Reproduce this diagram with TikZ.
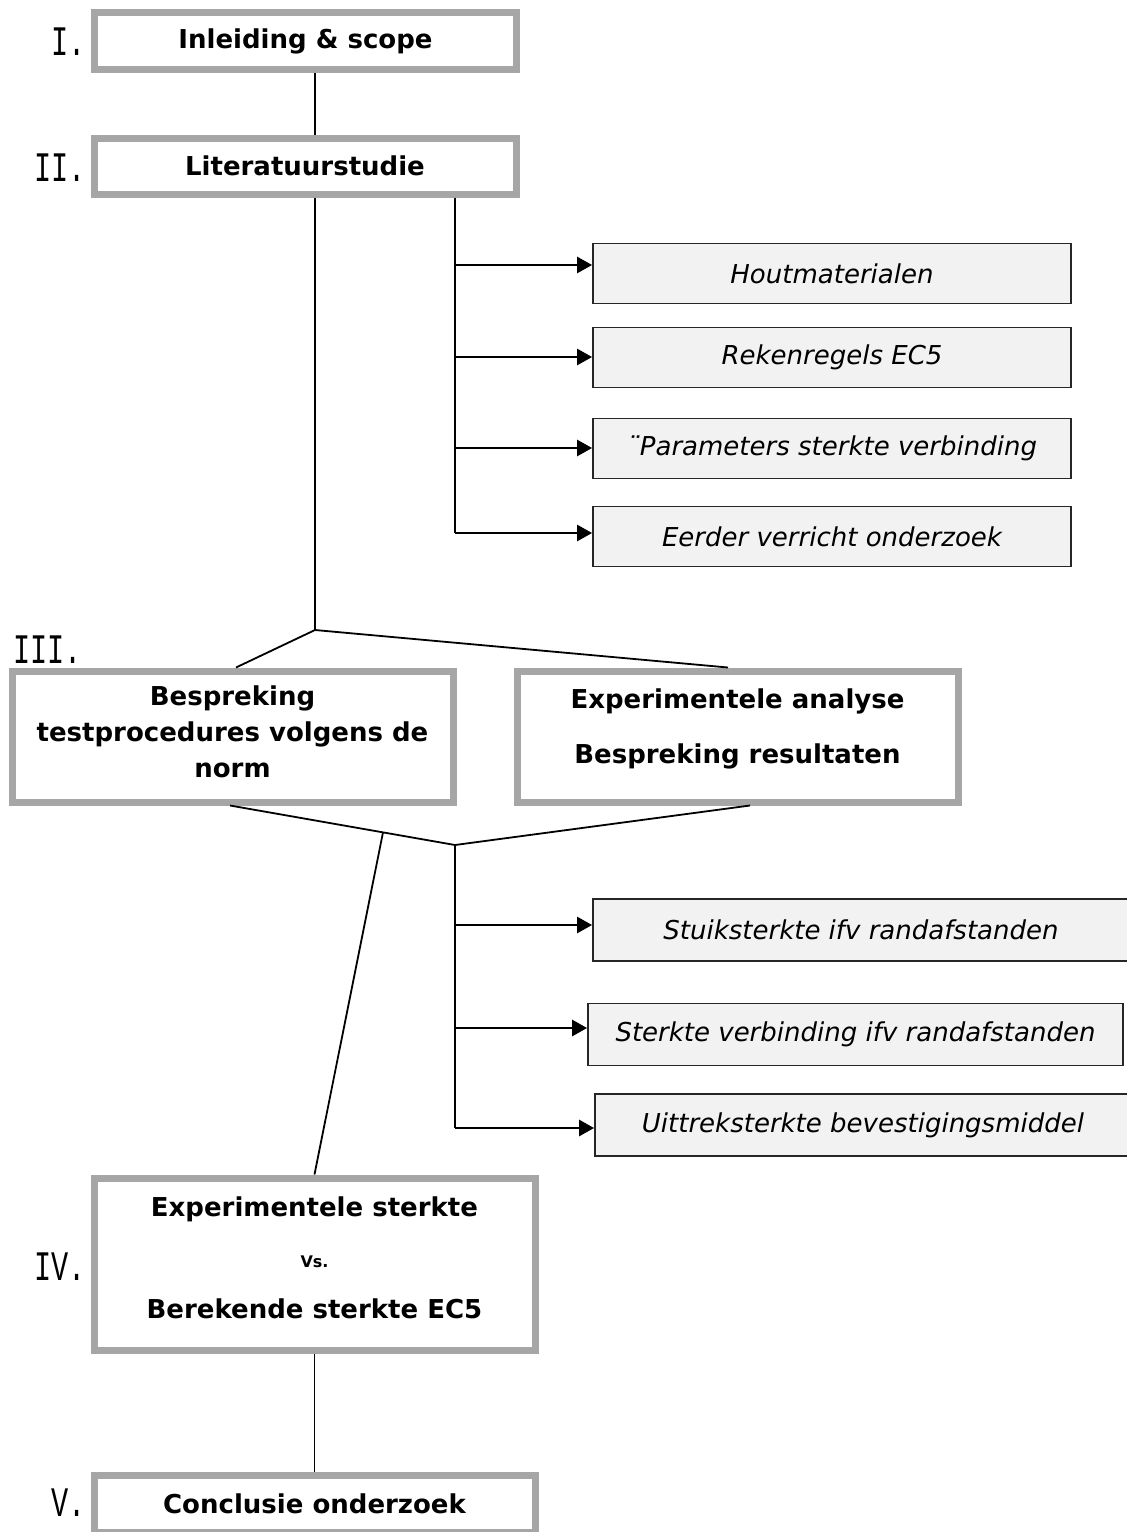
\documentclass[tikz,border=0pt]{standalone}
\usepackage{fontspec}
\setmainfont{DejaVu Sans}
\newfontfamily\numfont[FakeStretch=0.68]{Liberation Mono}
\usetikzlibrary{arrows.meta}
\usetikzlibrary{calc}
\definecolor{boxgray}{HTML}{A6A6A6}
\definecolor{subfill}{HTML}{F2F2F2}

\begin{document}
\begin{tikzpicture}[x=0.5pt, y=-0.5pt,
  mainbox/.style={draw=boxgray, line width=3.5pt, fill=white, align=center, inner sep=0pt, font=\fontsize{13}{18}\selectfont\bfseries},
  subbox/.style={draw=black!85, line width=0.9pt, fill=subfill, inner sep=0pt, minimum height=30pt, font=\fontsize{13}{16}\selectfont\itshape},
  numeral/.style={anchor=base east, inner sep=0pt, font=\numfont\fontsize{21}{24}\selectfont},
  conn/.style={line width=0.9pt},
  arr/.style={line width=1.35pt, -{Triangle[length=7.5pt, width=8pt]}}]
\useasboundingbox (0,0) rectangle (1126,1532);

\node[numeral] (n1) at (86,55) {I.};
\node[mainbox, minimum width=211pt, minimum height=28.5pt] (inl) at (305.5,41) {Inleiding \& scope};
\node[numeral] (n2) at (86,181) {II.};
\node[mainbox, minimum width=211pt, minimum height=28pt] (lit) at (305,166) {Literatuurstudie};

\node[subbox, minimum width=239pt] (hout) at (832,273.5) {Houtmaterialen};
\node[subbox, minimum width=239pt] (reken) at (832,357.5) {Rekenregels EC5};
\node[subbox, minimum width=239pt] (param) at (832,448.5) {¨Parameters sterkte verbinding};
\node[subbox, minimum width=239pt] (eerder) at (832,536.5) {Eerder verricht onderzoek};

\node[numeral] (n3) at (82,663) {III.};
\node[mainbox, minimum width=220.5pt, minimum height=65.5pt] (besp) at (232.5,736.5) {Bespreking\\testprocedures volgens de\\norm\rule[-5pt]{0pt}{0pt}};
\node[mainbox, minimum width=220.5pt, minimum height=65.5pt] (exp) at (737.5,736.5) {Experimentele analyse\\[9.5pt]Bespreking resultaten\rule[-10pt]{0pt}{0pt}};

\node[subbox, minimum width=268pt, minimum height=31pt] (stuik) at (861,930) {Stuiksterkte ifv randafstanden};
\node[subbox, minimum width=267.5pt, minimum height=31pt] (sterk) at (855.5,1034.5) {Sterkte verbinding ifv randafstanden};
\node[subbox, minimum width=268pt, minimum height=31pt] (uittrek) at (863,1125) {Uittreksterkte bevestigingsmiddel};

\node[numeral] (n4) at (86,1280) {IV.};
\node[mainbox, minimum width=220.5pt, minimum height=86pt] (vs) at (314.5,1264) {Experimentele sterkte\\[7.5pt]{\fontsize{8}{9}\selectfont Vs.}\\[7.5pt]Berekende sterkte EC5\rule[-6pt]{0pt}{0pt}};
\node[numeral] (n5) at (86,1516) {V.};
\node[mainbox, minimum width=220.5pt, minimum height=28.5pt] (concl) at (314.5,1504) {Conclusie onderzoek};

\coordinate (j1) at (315,630);
\coordinate (a1) at (455,265);
\coordinate (a2) at (455,357);
\coordinate (a3) at (455,448);
\coordinate (a4) at (455,533);
\coordinate (j2) at (455,845);
\coordinate (b1) at (455,925);
\coordinate (b2) at (455,1028);
\coordinate (b3) at (455,1128);

\draw[conn] (inl.south -| j1) -- (lit.north -| j1);
\draw[conn] (lit.south -| j1) -- (j1);
\draw[conn] (lit.south -| a1) -- (a4);
\path[arr]
(a1) edge (a1 -| hout.west)
(a2) edge (a2 -| reken.west)
(a3) edge (a3 -| param.west)
(a4) edge (a4 -| eerder.west)
;
\draw[conn] ([xshift=1.75pt]besp.north) -- (j1) -- ([xshift=-4.75pt]exp.north);
\draw[conn] ([xshift=-1.25pt]besp.south) -- (j2) -- ([xshift=6.25pt]exp.south);
\coordinate (k) at ($([xshift=-1.25pt]besp.south)!0.68!(j2)$);
\draw[conn] (k) -- (vs.north);
\draw[conn] (j2) -- (b3);
\path[arr]
(b1) edge (b1 -| stuik.west)
(b2) edge (b2 -| sterk.west)
(b3) edge (b3 -| uittrek.west)
;
\draw[conn] (vs.south) -- (concl.north);
\end{tikzpicture}
\end{document}
